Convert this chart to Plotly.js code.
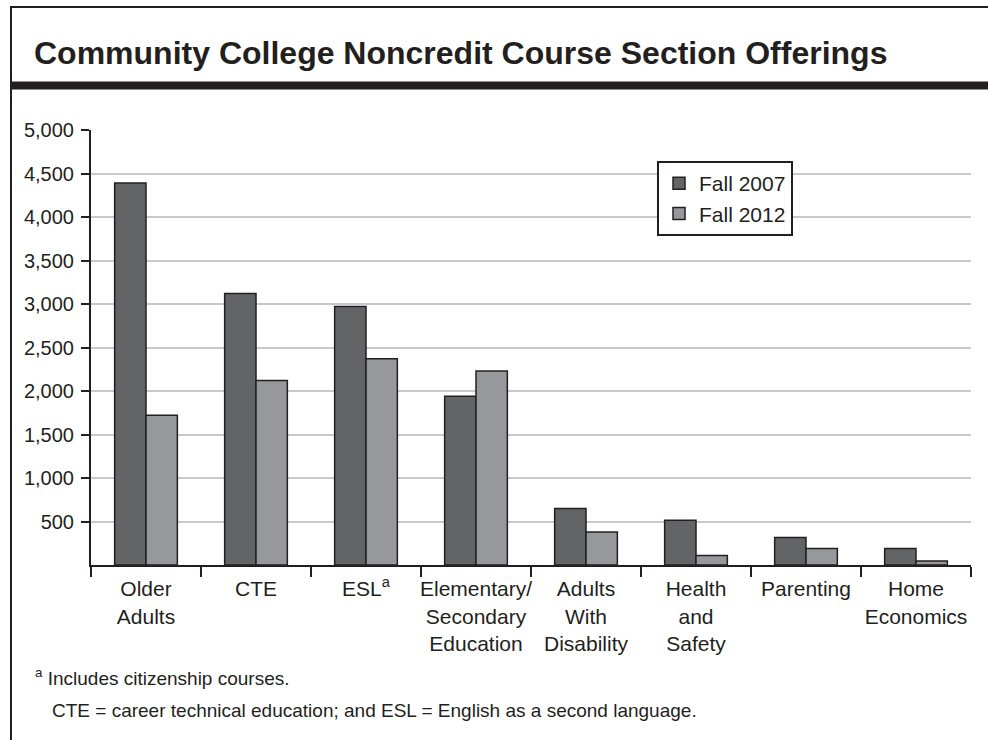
<!DOCTYPE html>
<html>
<head>
<meta charset="utf-8">
<script src="https://cdn.plot.ly/plotly-3.0.1.min.js"></script>
<style>
  html, body { margin: 0; padding: 0; background: #fff; }
  #chart { width: 988px; height: 740px; }
</style>
</head>
<body>
<div id="chart"></div>
<script>
// ---- Data ----
const categories = [
  "Older<br>Adults",
  "CTE",
  "ESL<sup>a</sup>",
  "Elementary/<br>Secondary<br>Education",
  "Adults<br>With<br>Disability",
  "Health<br>and<br>Safety",
  "Parenting",
  "Home<br>Economics"
];
const fall2007 = [4390, 3120, 2970, 1940, 650, 515, 315, 190];
const fall2012 = [1720, 2120, 2370, 2230, 380, 110, 190, 45];
const seriesNames = ["Fall 2007", "Fall 2012"];
const yTickVals = [500, 1000, 1500, 2000, 2500, 3000, 3500, 4000, 4500, 5000];
const yTickText = ["500", "1,000", "1,500", "2,000", "2,500", "3,000", "3,500", "4,000", "4,500", "5,000"];
const titleText = "Community College Noncredit Course Section Offerings";
const footnoteA = "<sup>a</sup> Includes citizenship courses.";
const footnoteAbbr = "CTE = career technical education; and ESL = English as a second language.";

// ---- Geometry helpers (pixel -> paper) ----
const W = 988, H = 740;
const M = { l: 91, r: 17, t: 130, b: 175 };
const PW = W - M.l - M.r, PH = H - M.t - M.b;
const px = x => (x - M.l) / PW;
const py = y => (H - M.b - y) / PH;

const ink = "#231f20";
const FONT = "Liberation Sans, Arial, Helvetica, sans-serif";

const traces = [
  {
    type: "bar", name: seriesNames[0], x: categories, y: fall2007,
    marker: { color: "#636466", line: { color: ink, width: 1.5 } },
    hoverinfo: "skip"
  },
  {
    type: "bar", name: seriesNames[1], x: categories, y: fall2012,
    marker: { color: "#97989b", line: { color: ink, width: 1.5 } },
    hoverinfo: "skip"
  }
];

const layout = {
  width: W, height: H,
  margin: M,
  paper_bgcolor: "#fff", plot_bgcolor: "#fff",
  font: { family: FONT, color: ink, size: 20 },
  barmode: "group",
  bargap: 0.43,
  bargroupgap: 0,
  title: {
    text: "<b>" + titleText + "</b>",
    font: { family: FONT, size: 32, color: ink },
    x: 34 / W, xanchor: "left", xref: "container",
    y: 1 - 53 / H, yanchor: "middle", yref: "container"
  },
  xaxis: {
    type: "category",
    tickson: "boundaries",
    ticks: "outside", ticklen: 10, tickwidth: 2, tickcolor: ink,
    showline: true, linecolor: ink, linewidth: 2,
    showgrid: false, zeroline: false,
    tickfont: { family: FONT, size: 21, color: ink },
    ticklabelstandoff: 4,
    tickangle: 0,
    fixedrange: true
  },
  yaxis: {
    range: [0, 5000],
    tickvals: yTickVals, ticktext: yTickText,
    ticks: "outside", ticklen: 8, tickwidth: 2, tickcolor: ink,
    showline: true, linecolor: ink, linewidth: 2,
    showgrid: true, gridcolor: "#c9c9c9", gridwidth: 2,
    zeroline: false,
    tickfont: { family: FONT, size: 20, color: ink },
    ticklabelstandoff: 3,
    fixedrange: true
  },
  showlegend: true,
  legend: {
    x: px(657), y: py(161), xanchor: "left", yanchor: "top",
    bordercolor: ink, borderwidth: 2, bgcolor: "#fff",
    font: { family: FONT, size: 21, color: ink },
    entrywidth: 118, entrywidthmode: "pixels",
    tracegroupgap: 0
  },
  shapes: [
    { type: "rect", xref: "paper", yref: "paper",
      x0: px(11), x1: px(1010), y0: py(780), y1: py(7),
      line: { color: ink, width: 2 }, fillcolor: "rgba(0,0,0,0)", layer: "above" },
    { type: "rect", xref: "paper", yref: "paper",
      x0: px(11), x1: px(1010), y0: py(89.5), y1: py(81.5),
      line: { width: 0 }, fillcolor: ink, layer: "above" }
  ],
  annotations: [
    { xref: "paper", yref: "paper", x: px(33), y: py(677),
      xanchor: "left", yanchor: "middle", showarrow: false,
      text: footnoteA, font: { family: FONT, size: 19, color: ink } },
    { xref: "paper", yref: "paper", x: px(50), y: py(710),
      xanchor: "left", yanchor: "middle", showarrow: false,
      text: footnoteAbbr, font: { family: FONT, size: 19, color: ink } }
  ]
};

Plotly.newPlot("chart", traces, layout, { displayModeBar: false, staticPlot: true });
</script>
</body>
</html>
